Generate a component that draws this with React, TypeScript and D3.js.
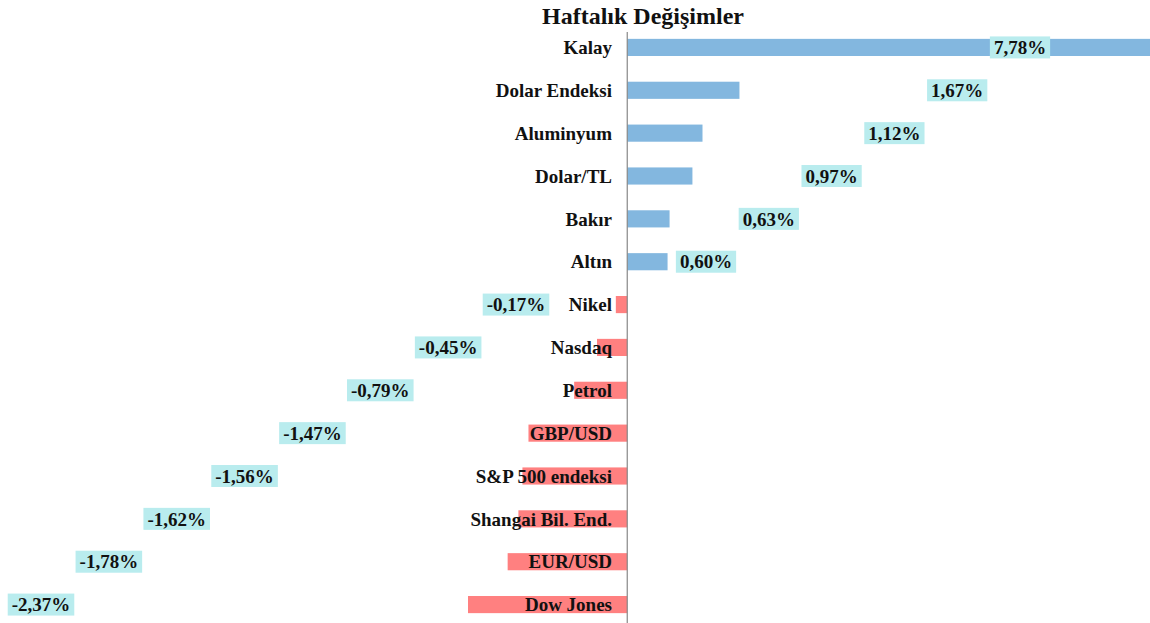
import React, { useEffect, useRef } from 'react';
import * as d3 from 'd3';

const categories = ['Kalay', 'Dolar Endeksi', 'Aluminyum', 'Dolar/TL', 'Bakır', 'Altın', 'Nikel', 'Nasdaq', 'Petrol', 'GBP/USD', 'S&P 500 endeksi', 'Shangai Bil. End.', 'EUR/USD', 'Dow Jones'];
const values = [7.78, 1.67, 1.12, 0.97, 0.63, 0.60, -0.17, -0.45, -0.79, -1.47, -1.56, -1.62, -1.78, -2.37];
const title = 'Haftalık Değişimler';

const W = 1150, H = 623;
const FONT = '"Liberation Serif", "Times New Roman", serif';

export default function App() {
  const ref = useRef<SVGSVGElement>(null);

  useEffect(() => {
    const svg = d3.select(ref.current);
    svg.selectAll('*').remove();

    const x = d3.scaleLinear().domain([-2.37, 7.78]).range([468, 1150]);
    const y = d3.scaleBand().domain(categories).range([26, 626]).paddingInner(0.6).paddingOuter(0.3);
    // data labels are staggered diagonally across the plot
    const lx = d3.scaleLinear().domain([0, 5, 6, 13]).range([1020, 706, 516, 41]);

    const data = categories.map((c, i) => ({ c, v: values[i], i }));

    svg.append('text')
      .attr('x', 643).attr('y', 24)
      .attr('text-anchor', 'middle')
      .attr('font-family', FONT).attr('font-weight', 'bold').attr('font-size', 24)
      .attr('fill', '#111')
      .text(title);

    svg.selectAll('.bar')
      .data(data)
      .enter().append('rect')
      .attr('class', 'bar')
      .attr('x', d => Math.min(x(0), x(d.v)))
      .attr('y', d => (y(d.c) as number))
      .attr('width', d => Math.abs(x(d.v) - x(0)))
      .attr('height', y.bandwidth())
      .attr('fill', d => d.v >= 0 ? '#83b7df' : '#ff8080');

    svg.append('line')
      .attr('x1', x(0)).attr('x2', x(0))
      .attr('y1', 32).attr('y2', H)
      .attr('stroke', '#888').attr('stroke-width', 1.2);

    svg.selectAll('.cat')
      .data(data)
      .enter().append('text')
      .attr('class', 'cat')
      .attr('x', 612)
      .attr('y', d => (y(d.c) as number) + y.bandwidth() / 2)
      .attr('dy', '0.35em')
      .attr('text-anchor', 'end')
      .attr('font-family', FONT).attr('font-weight', 'bold').attr('font-size', 19)
      .attr('fill', '#111')
      .text(d => d.c);

    const lab = svg.selectAll('.lab')
      .data(data)
      .enter().append('g')
      .attr('class', 'lab')
      .attr('transform', d => `translate(${lx(d.i)},${(y(d.c) as number) + y.bandwidth() / 2})`);

    lab.append('rect')
      .attr('fill', '#b9ecee');

    lab.append('text')
      .attr('text-anchor', 'middle')
      .attr('dy', '0.35em')
      .attr('font-family', FONT).attr('font-weight', 'bold').attr('font-size', 19)
      .attr('fill', '#111')
      .text(d => d3.format('.2f')(d.v).replace('.', ',').replace('\u2212', '-') + '%');

    lab.each(function () {
      const g = d3.select(this);
      const bb = (g.select('text').node() as SVGTextElement).getBBox();
      g.select('rect')
        .attr('x', bb.x - 4).attr('y', -11)
        .attr('width', bb.width + 8).attr('height', 22);
    });
  }, []);

  return (
    <div style={{ position: 'absolute', left: 0, top: 0 }}>
      <svg ref={ref} width={W} height={H} style={{ display: 'block', background: '#fff' }} />
    </div>
  );
}
